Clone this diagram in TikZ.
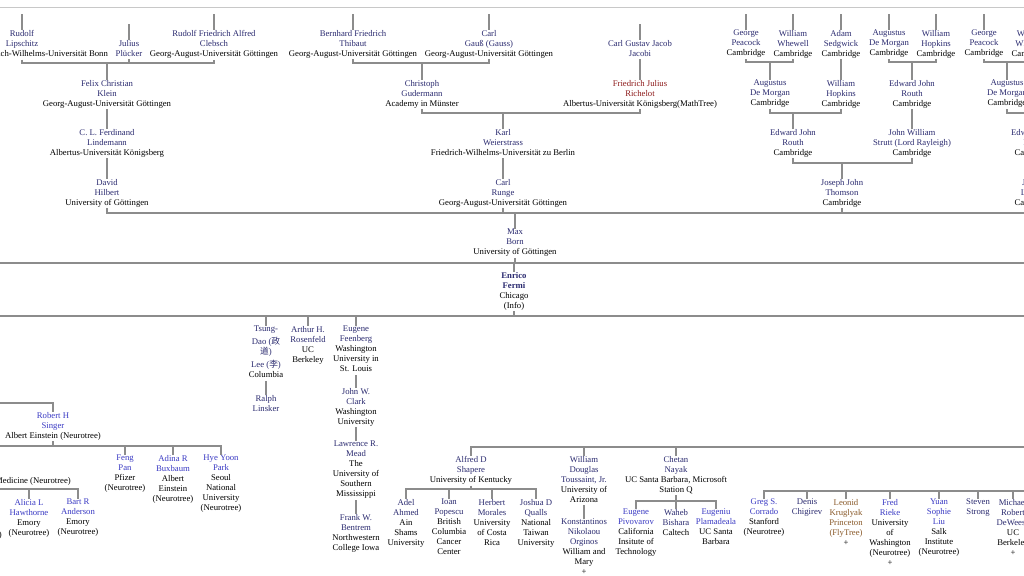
\documentclass[tikz,border=0pt]{standalone}
\usepackage{fontspec}
\setmainfont{Liberation Serif}
\newfontfamily\cjk{Noto Sans CJK SC}
\definecolor{nav}{HTML}{2B2B70}
\definecolor{blu}{HTML}{3A3AC4}
\definecolor{drd}{HTML}{8E1C1C}
\definecolor{brn}{HTML}{8A5A2A}
\definecolor{lng}{HTML}{8C8C8C}
\definecolor{topg}{HTML}{C8C8C8}
\newcommand\blk[1]{\textcolor{black}{#1}}
\tikzset{
 pn/.style={anchor=north, align=center, inner sep=0pt, text=nav,
   font=\fontsize{8.7}{10}\selectfont, yshift=-3pt,
   execute at begin node={\rule{0pt}{8pt}},
   execute at end node={\rule[-3pt]{0pt}{3pt}}},
 bl/.style={pn, text=blu},
 rd/.style={pn, text=drd},
 br/.style={pn, text=brn},
 ln/.style={draw=lng, line width=1.3pt},
 topline/.style={draw=topg, line width=1pt},
}
\begin{document}
\begin{tikzpicture}[x=1pt,y=-1pt]
\useasboundingbox (0,0) rectangle (1024,575);
\fill[white] (0,0) rectangle (1024,575);
\clip (0,0) rectangle (1024,575);
% ---------- top row ----------
\node[pn] (lip) at (22,27) {Rudolf\\Lipschitz\\\blk{Rheinische Friedrich-Wilhelms-Universität Bonn}};
\node[pn] (plu) at (129,37) {Julius\\Plücker};
\node[pn] (cle) at (214,27) {Rudolf Friedrich Alfred\\Clebsch\\\blk{Georg-August-Universität Göttingen}};
\node[pn] (thi) at (353,27) {Bernhard Friedrich\\Thibaut\\\blk{Georg-August-Universität Göttingen}};
\node[pn] (gau) at (489,27) {Carl\\Gauß (Gauss)\\\blk{Georg-August-Universität Göttingen}};
\node[pn] (jac) at (640,37) {Carl Gustav Jacob\\Jacobi};
\node[pn] (pea) at (746,27) {George\\Peacock\\\blk{Cambridge}};
\node[pn] (whe) at (793,27) {William\\Whewell\\\blk{Cambridge}};
\node[pn] (sed) at (841,27) {Adam\\Sedgwick\\\blk{Cambridge}};
\node[pn] (dmo) at (889,27) {Augustus\\De Morgan\\\blk{Cambridge}};
\node[pn] (hop) at (936,27) {William\\Hopkins\\\blk{Cambridge}};
\node[pn] (peb) at (984,27) {George\\Peacock\\\blk{Cambridge}};
\node[pn] (wheb) at (1031,27) {William\\Whewell\\\blk{Cambridge}};
% ---------- row 2 ----------
\node[pn] (kle) at (107,77) {Felix Christian\\Klein\\\blk{Georg-August-Universität Göttingen}};
\node[pn] (gud) at (422,77) {Christoph\\Gudermann\\\blk{Academy in Münster}};
\node[rd] (ric) at (640,77) {Friedrich Julius\\Richelot\\\blk{Albertus-Universität Königsberg(MathTree)}};
\node[pn] (dma) at (770,77) {Augustus\\De Morgan\\\blk{Cambridge}};
\node[pn] (hopa) at (841,77) {William\\Hopkins\\\blk{Cambridge}};
\node[pn] (rouc) at (912,77) {Edward John\\Routh\\\blk{Cambridge}};
\node[pn] (dmb) at (1007,77) {Augustus\\De Morgan\\\blk{Cambridge}};
% ---------- row 3 ----------
\node[pn] (lin) at (107,126) {C. L. Ferdinand\\Lindemann\\\blk{Albertus-Universität Königsberg}};
\node[pn] (wei) at (503,126) {Karl\\Weierstrass\\\blk{Friedrich-Wilhelms-Universität zu Berlin}};
\node[pn] (rou) at (793,126) {Edward John\\Routh\\\blk{Cambridge}};
\node[pn] (str) at (912,126) {John William\\Strutt (Lord Rayleigh)\\\blk{Cambridge}};
\node[pn] (roub) at (1034,126) {Edward John\\Routh\\\blk{Cambridge}};
% ---------- row 4 ----------
\node[pn] (hil) at (107,176) {David\\Hilbert\\\blk{University of Göttingen}};
\node[pn] (run) at (503,176) {Carl\\Runge\\\blk{Georg-August-Universität Göttingen}};
\node[pn] (tho) at (842,176) {Joseph John\\Thomson\\\blk{Cambridge}};
\node[pn] (lar) at (1034,176) {Joseph\\Larmor\\\blk{Cambridge}};
% ---------- Born, Fermi ----------
\node[pn] (born) at (515,226) {Max\\Born\\\blk{University of Göttingen}};
\node[pn] (fer) at (514,269) {\textbf{Enrico}\\\textbf{Fermi}\\\blk{Chicago}\\\blk{(Info)}};
% ---------- Fermi students ----------
\node[pn] (lee) at (266,323) {Tsung-\\[2.4pt]Dao ({\cjk 政}\\{\cjk 道})\\[3.3pt]Lee ({\cjk 李})\\\blk{Columbia}};
\node[pn] (ros) at (308,323) {Arthur H.\\Rosenfeld\\\blk{UC}\\\blk{Berkeley}};
\node[pn] (fee) at (356,323) {Eugene\\Feenberg\\\blk{Washington}\\\blk{University in}\\\blk{St. Louis}};
\node[pn] (lsk) at (266,392) {Ralph\\Linsker};
\node[pn] (cla) at (356,385) {John W.\\Clark\\\blk{Washington}\\\blk{University}};
\node[pn] (mea) at (356,438) {Lawrence R.\\Mead\\\blk{The}\\\blk{University of}\\\blk{Southern}\\\blk{Mississippi}};
\node[pn] (ben) at (356,511) {Frank W.\\Bentrem\\\blk{Northwestern}\\\blk{College Iowa}};
% ---------- Singer group ----------
\node[bl] (sin) at (53,409) {Robert H\\Singer\\\blk{Albert Einstein (Neurotree)}};
\node[pn, anchor=north east] (sca) at (71,472) {\blk{Medicine (Neurotree)}};
\node[bl] (pan) at (125,452) {Feng\\Pan\\\blk{Pfizer}\\\blk{(Neurotree)}};
\node[bl] (bux) at (173,452) {Adina R\\Buxbaum\\\blk{Albert}\\\blk{Einstein}\\\blk{(Neurotree)}};
\node[bl] (par) at (221,452) {Hye Yoon\\Park\\\blk{Seoul}\\\blk{National}\\\blk{University}\\\blk{(Neurotree)}};
\node[bl] (haw) at (29,496) {Alicia L\\Hawthorne\\\blk{Emory}\\\blk{(Neurotree)}};
\node[bl] (bra) at (78,496) {Bart R\\Anderson\\\blk{Emory}\\\blk{(Neurotree)}};
\node[pn, anchor=north east] (scb) at (2,526) {\blk{(Neurotree)}};
% ---------- Shapere / Toussaint / Nayak ----------
\node[pn] (sha) at (471,453) {Alfred D\\Shapere\\\blk{University of Kentucky}};
\node[pn] (tou) at (584,453) {William\\Douglas\\Toussaint, Jr.\\\blk{University of}\\\blk{Arizona}};
\node[pn] (nay) at (676,453) {Chetan\\Nayak\\\blk{UC Santa Barbara, Microsoft}\\\blk{Station Q}};
\node[pn] (ade) at (406,496) {Adel\\Ahmed\\\blk{Ain}\\\blk{Shams}\\\blk{University}};
\node[pn] (pop) at (449,496) {Ioan\\Popescu\\\blk{British}\\\blk{Columbia}\\\blk{Cancer}\\\blk{Center}};
\node[pn] (mor) at (492,496) {Herbert\\Morales\\\blk{University}\\\blk{of Costa}\\\blk{Rica}};
\node[pn] (qua) at (536,496) {Joshua D\\Qualls\\\blk{National}\\\blk{Taiwan}\\\blk{University}};
\node[pn] (ork) at (584,516) {Konstantinos\\Nikolaou\\Orginos\\\blk{William and}\\\blk{Mary}\\\blk{+}};
\node[bl] (piv) at (636,506) {Eugene\\Pivovarov\\\blk{California}\\\blk{Insitute of}\\\blk{Technology}};
\node[pn] (bis) at (676,506) {Waheb\\Bishara\\\blk{Caltech}};
\node[bl] (pla) at (716,506) {Eugeniu\\Plamadeala\\\blk{UC Santa}\\\blk{Barbara}};
% ---------- right group ----------
\node[bl] (cor) at (764,496) {Greg S.\\Corrado\\\blk{Stanford}\\\blk{(Neurotree)}};
\node[pn] (chi) at (807,496) {Denis\\Chigirev};
\node[br] (kru) at (846,496) {Leonid\\Kruglyak\\Princeton\\(FlyTree)\\\blk{+}};
\node[bl] (rie) at (890,496) {Fred\\Rieke\\\blk{University}\\\blk{of}\\\blk{Washington}\\\blk{(Neurotree)}\\\blk{+}};
\node[bl] (liu) at (939,496) {Yuan\\Sophie\\Liu\\\blk{Salk}\\\blk{Institute}\\\blk{(Neurotree)}};
\node[pn] (sst) at (978,496) {Steven\\Strong};
\node[pn] (dew) at (1013,496) {Michael\\Robert\\DeWeese\\\blk{UC}\\\blk{Berkeley}\\\blk{+}};
% ---------- coordinates for off-picture ends ----------
\coordinate (tl) at (-5,8);   \coordinate (tr) at (1030,8);
\coordinate (e113) at (1040,113);
\coordinate (e213) at (1040,213);
\coordinate (w263) at (-5,263); \coordinate (e263) at (1030,263);
\coordinate (w316) at (-5,316); \coordinate (e316) at (1030,316);
\coordinate (w403) at (-5,403);
\coordinate (w446) at (-5,446);
\coordinate (w489) at (-5,489);
\coordinate (e447) at (1040,447);
\coordinate (e491) at (1040,491);
% ---------- connectors ----------
\draw[topline] (tl) -- (tr);
\foreach \n in {lip,cle,thi,gau,pea,whe,sed,dmo,hop,peb,wheb}
  \draw[ln] (\n.north) -- (\n.north |- 0,14);
\foreach \n in {plu,jac}
  \draw[ln] (\n.north) -- (\n.north |- 0,24);
\draw[ln] (lip.south) |- (cle.south |- 0,63) -- (cle.south);
\draw[ln] (plu.south) -- (plu.south |- 0,63);
\draw[ln] (kle.north) -- (kle.north |- 0,63);
\draw[ln] (thi.south) |- (gau.south |- 0,63) -- (gau.south);
\draw[ln] (gud.north) -- (gud.north |- 0,63);
\draw[ln] (jac.south) -- (ric.north);
\draw[ln] (gud.south) |- (ric.south |- 0,113) -- (ric.south);
\draw[ln] (wei.north) -- (wei.north |- 0,113);
\draw[ln] (kle.south) -- (lin.north);
\draw[ln] (lin.south) -- (hil.north);
\draw[ln] (wei.south) -- (run.north);
\draw[ln] (pea.south) |- (whe.south |- 0,62) -- (whe.south);
\draw[ln] (dma.north) -- (dma.north |- 0,62);
\draw[ln] (sed.south) -- (hopa.north);
\draw[ln] (dmo.south) |- (hop.south |- 0,62) -- (hop.south);
\draw[ln] (rouc.north) -- (rouc.north |- 0,62);
\draw[ln] (peb.south) |- (wheb.south |- 0,62) -- (wheb.south);
\draw[ln] (dmb.north) -- (dmb.north |- 0,62);
\draw[ln] (dma.south) |- (hopa.south |- 0,113) -- (hopa.south);
\draw[ln] (rou.north) -- (rou.north |- 0,113);
\draw[ln] (rouc.south) -- (str.north);
\draw[ln] (dmb.south) |- (e113);
\draw[ln] (roub.north) -- (roub.north |- 0,113);
\draw[ln] (rou.south) |- (str.south |- 0,163) -- (str.south);
\draw[ln] (tho.north) -- (tho.north |- 0,163);
\draw[ln] (roub.south) -- (lar.north);
\draw[ln] (hil.south) |- (e213);
\foreach \n in {run,tho,lar}
  \draw[ln] (\n.south) -- (\n.south |- 0,213);
\draw[ln] (born.north) -- (born.north |- 0,213);
\draw[ln] (w263) -- (e263);
\draw[ln] (born.south) -- (born.south |- 0,263);
\draw[ln] (fer.north) -- (fer.north |- 0,263);
\draw[ln] (w316) -- (e316);
\draw[ln] (fer.south) -- (fer.south |- 0,316);
\foreach \n in {lee,ros,fee}
  \draw[ln] (\n.north) -- (\n.north |- 0,316);
\draw[ln] (lee.south) -- (lsk.north);
\draw[ln] (fee.south) -- (cla.north);
\draw[ln] (cla.south) -- (mea.north);
\draw[ln] (mea.south) -- (ben.north);
\draw[ln] (w403) -| (sin.north);
\draw[ln] (sin.south) -- (sin.south |- 0,446);
\draw[ln] (w446) -| (par.north);
\foreach \n in {pan,bux}
  \draw[ln] (\n.north) -- (\n.north |- 0,446);
\draw[ln] (w489) -| (bra.north);
\draw[ln] (haw.north) -- (haw.north |- 0,489);
\draw[ln] (sha.north) |- (e447);
\foreach \n in {tou,nay}
  \draw[ln] (\n.north) -- (\n.north |- 0,447);
\draw[ln] (sha.south) -- (sha.south |- 0,489);
\draw[ln] (ade.north) |- (qua.north |- 0,489) -- (qua.north);
\foreach \n in {pop,mor}
  \draw[ln] (\n.north) -- (\n.north |- 0,489);
\draw[ln] (tou.south) -- (ork.north);
\draw[ln] (nay.south) -- (nay.south |- 0,501);
\draw[ln] (piv.north) |- (pla.north |- 0,501) -- (pla.north);
\draw[ln] (bis.north) -- (bis.north |- 0,501);
\draw[ln] (cor.north) |- (e491);
\foreach \n in {chi,kru,rie,liu,sst,dew}
  \draw[ln] (\n.north) -- (\n.north |- 0,491);
\end{tikzpicture}
\end{document}
